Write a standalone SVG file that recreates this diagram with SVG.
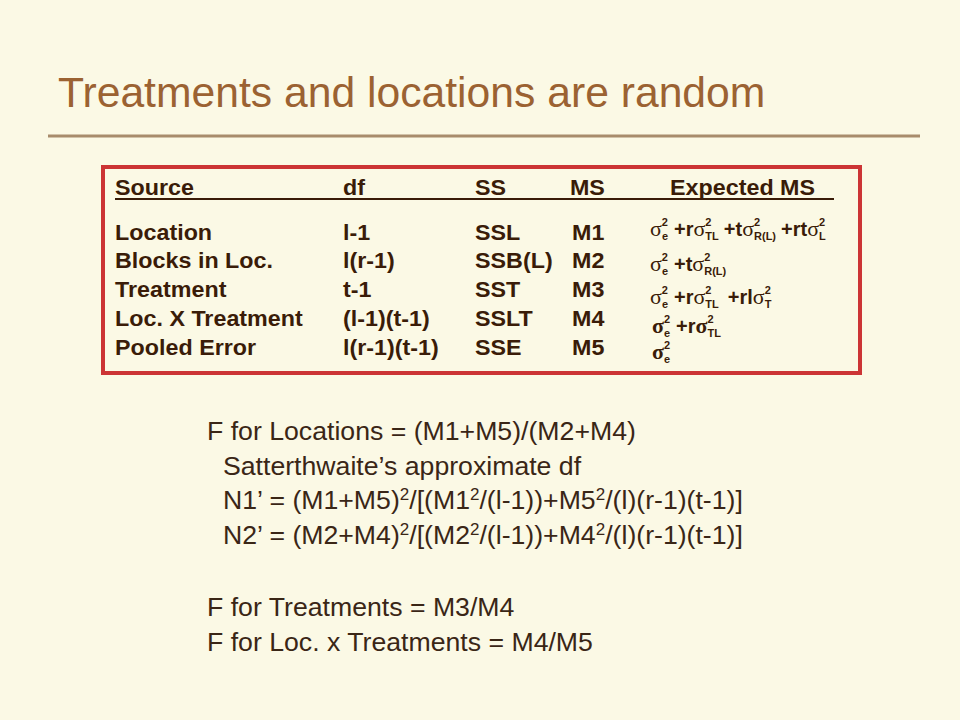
<svg xmlns="http://www.w3.org/2000/svg" width="960" height="720" viewBox="0 0 960 720">
<style>
.tb{font-family:"Liberation Sans",Arial,sans-serif;font-weight:bold;font-size:22px;fill:#3a1c08}
.fm{font-family:"Liberation Sans",Arial,sans-serif;font-weight:bold;font-size:20px;fill:#3a1c08}
.sg{font-family:"Liberation Serif","Times New Roman",serif;font-weight:normal;font-size:22px}
.sgb{font-family:"Liberation Serif","Times New Roman",serif;font-weight:bold;font-size:22px}
.sp,.sb{font-size:11px}
.bt{font-family:"Liberation Sans",Arial,sans-serif;font-size:26.67px;fill:#3a2616}
.s2{font-size:17px}
</style>
<rect x="0" y="0" width="960" height="720" fill="#fbf9e5"/>
<g id="title">
<text x="58" y="107" font-family="'Liberation Sans',Arial,sans-serif" font-size="42.67" fill="#9b6232">Treatments and locations are random</text>
<line x1="48" y1="136" x2="920" y2="136" stroke="#a88c6c" stroke-width="3"/>
</g>
<g id="table">
<rect x="103" y="167" width="757" height="206" fill="none" stroke="#cc3535" stroke-width="4"/>
<g id="header">
<g transform="scale(1.06 1)">
<text class="tb" x="108.5" y="195">Source</text>
<text class="tb" x="323.6" y="195">df</text>
<text class="tb" x="448.1" y="195">SS</text>
<text class="tb" x="537.7" y="195">MS</text>
<text class="tb" x="632.1" y="195">Expected MS</text>
</g>
<line x1="115" y1="199" x2="834" y2="199" stroke="#3a1c08" stroke-width="2.2"/>
</g>
<g id="row-location">
<g transform="scale(1.06 1)">
<text class="tb" x="108.5" y="240">Location</text>
<text class="tb" x="323.6" y="240">l-1</text>
<text class="tb" x="448.1" y="240">SSL</text>
<text class="tb" x="539.6" y="240">M1</text>
</g>
<text class="fm" x="650" y="236"><tspan class="sg">σ</tspan><tspan class="sp" dy="-10">2</tspan><tspan class="sb" dx="-6.1" dy="14">e</tspan><tspan dx="6" dy="-4">+r</tspan><tspan class="sg">σ</tspan><tspan class="sp" dy="-10">2</tspan><tspan class="sb" dx="-6.1" dy="14">TL</tspan><tspan dx="5" dy="-4">+t</tspan><tspan class="sg">σ</tspan><tspan class="sp" dy="-10">2</tspan><tspan class="sb" dx="-6.1" dy="14">R(L)</tspan><tspan dx="5" dy="-4">+rt</tspan><tspan class="sg">σ</tspan><tspan class="sp" dy="-10">2</tspan><tspan class="sb" dx="-6.1" dy="14">L</tspan></text>
</g>
<g id="row-blocks">
<g transform="scale(1.06 1)">
<text class="tb" x="108.5" y="268">Blocks in Loc.</text>
<text class="tb" x="323.6" y="268">l(r-1)</text>
<text class="tb" x="448.1" y="268">SSB(L)</text>
<text class="tb" x="539.6" y="268">M2</text>
</g>
<text class="fm" x="650" y="271"><tspan class="sg">σ</tspan><tspan class="sp" dy="-10">2</tspan><tspan class="sb" dx="-6.1" dy="14">e</tspan><tspan dx="6" dy="-4">+t</tspan><tspan class="sg">σ</tspan><tspan class="sp" dy="-10">2</tspan><tspan class="sb" dx="-6.1" dy="14">R(L)</tspan></text>
</g>
<g id="row-treatment">
<g transform="scale(1.06 1)">
<text class="tb" x="108.5" y="297">Treatment</text>
<text class="tb" x="323.6" y="297">t-1</text>
<text class="tb" x="448.1" y="297">SST</text>
<text class="tb" x="539.6" y="297">M3</text>
</g>
<text class="fm" x="650" y="304"><tspan class="sg">σ</tspan><tspan class="sp" dy="-10">2</tspan><tspan class="sb" dx="-6.1" dy="14">e</tspan><tspan dx="6" dy="-4">+r</tspan><tspan class="sg">σ</tspan><tspan class="sp" dy="-10">2</tspan><tspan class="sb" dx="-6.1" dy="14">TL</tspan><tspan dx="9" dy="-4">+rl</tspan><tspan class="sg">σ</tspan><tspan class="sp" dy="-10">2</tspan><tspan class="sb" dx="-6.1" dy="14">T</tspan></text>
</g>
<g id="row-locxtreatment">
<g transform="scale(1.06 1)">
<text class="tb" x="108.5" y="326">Loc. X Treatment</text>
<text class="tb" x="323.6" y="326">(l-1)(t-1)</text>
<text class="tb" x="448.1" y="326">SSLT</text>
<text class="tb" x="539.6" y="326">M4</text>
</g>
<text class="fm" x="652" y="333"><tspan class="sgb">σ</tspan><tspan class="sp" dy="-10">2</tspan><tspan class="sb" dx="-6.1" dy="14">e</tspan><tspan dx="6" dy="-4">+r</tspan><tspan class="sgb">σ</tspan><tspan class="sp" dy="-10">2</tspan><tspan class="sb" dx="-6.1" dy="14">TL</tspan></text>
</g>
<g id="row-pooled">
<g transform="scale(1.06 1)">
<text class="tb" x="108.5" y="355">Pooled Error</text>
<text class="tb" x="323.6" y="355">l(r-1)(t-1)</text>
<text class="tb" x="448.1" y="355">SSE</text>
<text class="tb" x="539.6" y="355">M5</text>
</g>
<text class="fm" x="652" y="359"><tspan class="sgb">σ</tspan><tspan class="sp" dy="-10">2</tspan><tspan class="sb" dx="-6.1" dy="14">e</tspan></text>
</g>
</g>
<g id="notes">
<text class="bt" x="207" y="440">F for Locations = (M1+M5)/(M2+M4)</text>
<text class="bt" x="223" y="475">Satterthwaite’s approximate df</text>
<text class="bt" x="223" y="509">N1’ = (M1+M5)<tspan class="s2" dy="-9">2</tspan><tspan dy="9">/[(M1</tspan><tspan class="s2" dy="-9">2</tspan><tspan dy="9">/(l-1))+M5</tspan><tspan class="s2" dy="-9">2</tspan><tspan dy="9">/(l)(r-1)(t-1)]</tspan></text>
<text class="bt" x="223" y="544">N2’ = (M2+M4)<tspan class="s2" dy="-9">2</tspan><tspan dy="9">/[(M2</tspan><tspan class="s2" dy="-9">2</tspan><tspan dy="9">/(l-1))+M4</tspan><tspan class="s2" dy="-9">2</tspan><tspan dy="9">/(l)(r-1)(t-1)]</tspan></text>
<text class="bt" x="207" y="616">F for Treatments = M3/M4</text>
<text class="bt" x="207" y="651">F for Loc. x Treatments = M4/M5</text>
</g>
</svg>
